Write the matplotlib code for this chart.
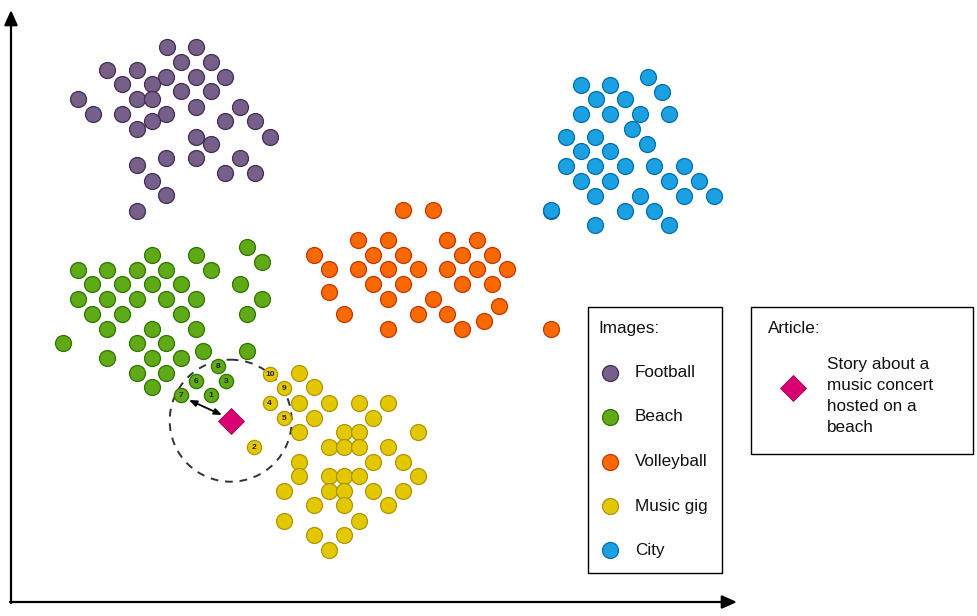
import matplotlib
matplotlib.use("Agg")
import matplotlib.pyplot as plt
from matplotlib.patches import Circle, Rectangle

plt.rcParams['font.family'] = ['Liberation Sans', 'DejaVu Sans']

# ---- data (embedding positions, in pixel-like units) ----
football_x = [166.7, 195.7, 181, 210.7, 107.3, 136.7, 166.3, 195.7, 225.3, 121.7, 151.7, 181, 210.7,
              77.7, 136.7, 151.7, 195.7, 240, 92.7, 121.7, 166.3, 151.7, 225.3, 254.7, 136.7, 195.7,
              210.7, 270, 166.3, 195.7, 240, 136.7, 225.3, 254.7, 151.7, 166.3, 136.7]
football_y = [46.7, 46.7, 62.3, 62.3, 70, 70, 76.7, 76.7, 76.7, 84.3, 84.3, 91, 91,
              99, 99, 99, 106.7, 106.7, 114, 114, 114, 121.3, 121.3, 121.3, 129, 136.7,
              144, 136.7, 157.7, 157.7, 157.7, 165, 173.3, 173.3, 180.7, 195, 211]

beach_x = [151.7, 195.7, 247.3, 262.3, 77.7, 107, 136.7, 166.3, 210.7, 92.3, 121.7, 151.7, 181, 240.3,
           77.7, 107, 136.7, 166.3, 195.7, 262.3, 92.3, 121.7, 181, 247.3, 107, 151.7, 195.7,
           62.7, 136.7, 166.3, 107, 151.7, 181, 203.3, 247.3, 136.7, 166.3, 151.7]
beach_y = [254.7, 254.7, 247.3, 262.3, 269.7, 269.7, 269.7, 269.7, 269.7, 284.3, 284.3, 284.3, 284.3, 284.3,
           299, 299, 299, 299, 299, 299, 314, 314, 314, 314, 328.7, 328.7, 328.7,
           343.3, 343.3, 343.3, 358, 358, 358, 350.7, 350.7, 372.7, 372.7, 387.3]

volley_x = [403.3, 432.7, 358.3, 388.3, 447.3, 476.7, 314.3, 373.3, 403.3, 462.3, 491.7,
            329.3, 358.3, 388.3, 417.7, 447.3, 476.7, 506.7, 373.3, 403.3, 462.3, 491.7,
            329.3, 388.3, 432.7, 499.3, 344.3, 417.7, 447.3, 484.3, 388.3, 462.3, 550.7]
volley_y = [210.3, 210.3, 240, 240, 240, 240, 255, 255, 255, 255, 255,
            269.3, 269.3, 269.3, 269.3, 269.3, 269.3, 269.3, 284.3, 284.3, 284.3, 284.3,
            291.7, 299, 299, 306, 314, 314, 314, 321, 329, 329, 329]

music_x = [299.3, 314.3, 299.3, 329, 359, 388.3, 314.3, 373.3, 299.3, 344, 359, 417.7,
           329, 344, 359, 388.3, 299.3, 373.3, 403.3, 299.3, 329, 344, 359, 417.7,
           284.3, 329, 344, 373.3, 403.3, 314.3, 344, 388.3, 284.3, 359, 314.3, 344, 329]
music_y = [373.3, 386.7, 402.7, 402.7, 402.7, 402.7, 417.7, 417.7, 432.3, 432.3, 432.3, 432.3,
           447.3, 447.3, 447.3, 447.3, 461.7, 461.7, 461.7, 476, 476, 476, 476, 476,
           491, 491, 491, 491, 491, 505, 505, 505, 520.7, 520.7, 535, 535, 550]

city_x = [647.7, 580.7, 610, 662, 595.7, 625, 580.7, 610, 640, 669.3, 632.3, 565.7, 595, 647.3,
          580.7, 610, 565.7, 595, 625, 654.3, 684, 580.7, 610, 669.3, 699, 595, 640, 684, 714,
          551, 625, 654.3, 595, 669.3, 550.7]
city_y = [77.3, 85, 85, 92.3, 99.3, 99.3, 114, 114, 114, 114, 129, 136.7, 136.7, 144,
          151.3, 151.3, 166, 166, 166, 166, 166, 180.7, 180.7, 180.7, 180.7, 195.7, 195.7, 195.7, 195.7,
          210.7, 210.7, 210.7, 225, 225, 210.3]

# nearest neighbours of the article (ranked)
near_beach_x = [210.7, 225.7, 195.7, 181, 217.7]
near_beach_y = [395, 381, 381, 395, 366]
near_beach_rank = ["1", "3", "6", "7", "8"]
near_music_x = [254.3, 269.7, 284, 284, 270]
near_music_y = [447.3, 402.7, 418.3, 388.3, 374]
near_music_rank = ["2", "4", "5", "9", "10"]

article_x = [230.7]
article_y = [420.7]
search_radius = 61

legend_labels = ["Football", "Beach", "Volleyball", "Music gig", "City"]
article_lines = ["Story about a", "music concert", "hosted on a", "beach"]

colors = {
    "Football": ("#76608a", "#432d57"),
    "Beach": ("#60a917", "#2d7600"),
    "Volleyball": ("#fa6800", "#c73500"),
    "Music gig": ("#e3c800", "#b09500"),
    "City": ("#1ba1e2", "#006eaf"),
}
article_color = ("#d80073", "#a50040")

# ---- figure ----
W, H = 977, 616
fig = plt.figure(figsize=(W / 100, H / 100), dpi=100)
ax = fig.add_axes([0, 0, 1, 1])
ax.set_xlim(0, W)
ax.set_ylim(H, 0)
ax.axis("off")

# axes arrows
ax.annotate("", xy=(11, 10), xytext=(11, 603),
            arrowprops=dict(arrowstyle="-|>,head_length=0.9,head_width=0.4", color="black", lw=1.6,
                            shrinkA=0, shrinkB=0))
ax.annotate("", xy=(737, 602), xytext=(10, 602),
            arrowprops=dict(arrowstyle="-|>,head_length=0.9,head_width=0.4", color="black", lw=1.6,
                            shrinkA=0, shrinkB=0))

# search circle
ax.add_patch(Circle((article_x[0], article_y[0]), search_radius, fill=False,
                    edgecolor="#333333", lw=1.4, linestyle=(0, (4, 3.5)), zorder=1))

S = 132
groups = [(football_x, football_y, "Football"), (beach_x, beach_y, "Beach"),
          (volley_x, volley_y, "Volleyball"), (music_x, music_y, "Music gig"),
          (city_x, city_y, "City")]
for xs, ys, name in groups:
    fc, ec = colors[name]
    ax.scatter(xs, ys, s=S, c=fc, edgecolors=ec, linewidths=0.9, zorder=3)

for xs, ys, ranks, name in [(near_beach_x, near_beach_y, near_beach_rank, "Beach"),
                            (near_music_x, near_music_y, near_music_rank, "Music gig")]:
    fc, ec = colors[name]
    ax.scatter(xs, ys, s=105, c=fc, edgecolors=ec, linewidths=0.9, zorder=3)
    for x, y, r in zip(xs, ys, ranks):
        ax.text(x, y + 0.5, r, ha="center", va="center", fontsize=6, color="#222222",
                fontweight="bold", zorder=4)

# distance arrow
ax.annotate("", xy=(222, 415), xytext=(189, 400),
            arrowprops=dict(arrowstyle="<|-|>,head_length=0.45,head_width=0.18", color="black",
                            lw=1.3, shrinkA=0, shrinkB=0), zorder=4)

# article
ax.scatter(article_x, article_y, s=175, marker="D", c=article_color[0],
           edgecolors=article_color[1], linewidths=0.6, zorder=5)

# legend boxes
ax.add_patch(Rectangle((588.3, 306.7), 133.4, 266.6, fill=False, edgecolor="black", lw=1.0, zorder=2))
ax.add_patch(Rectangle((750.7, 306.7), 222, 147.6, fill=False, edgecolor="black", lw=1.0, zorder=2))

FS = 12.3
ax.text(598.3, 328.3, "Images:", ha="left", va="center", fontsize=FS, color="#111111")
legend_y = [372.7, 416.7, 461.7, 506, 550]
for lab, ly in zip(legend_labels, legend_y):
    fc, ec = colors[lab]
    ax.scatter([610], [ly], s=S, c=fc, edgecolors=ec, linewidths=0.9, zorder=3)
    ax.text(635, ly, lab, ha="left", va="center", fontsize=FS, color="#111111")

ax.text(768.3, 328.3, "Article:", ha="left", va="center", fontsize=FS, color="#111111")
ax.scatter([793.3], [388.3], s=175, marker="D", c=article_color[0],
           edgecolors=article_color[1], linewidths=0.6, zorder=3)
for i, line in enumerate(article_lines):
    ax.text(826.7, 364 + 21.2 * i, line, ha="left", va="center", fontsize=FS, color="#111111")

fig.savefig("out.png", dpi=100)
